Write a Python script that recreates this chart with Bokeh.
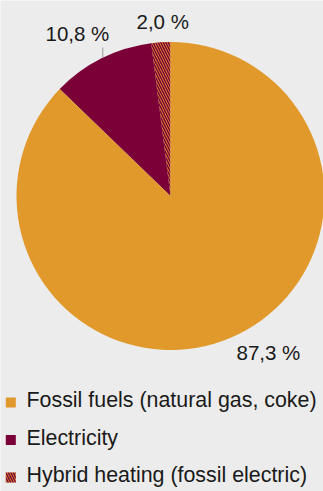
import math
from bokeh.plotting import figure
from bokeh.models import Range1d
from bokeh.core.properties import value
from bokeh.embed import file_html
from bokeh.resources import INLINE

# Heat sources share (percent)
categories = ["Fossil fuels (natural gas, coke)", "Electricity", "Hybrid heating (fossil electric)"]
shares = [87.3, 10.8, 2.0]
share_labels = ["87,3 %", "10,8 %", "2,0 %"]

W, H = 323, 491
ORANGE = "#e2992b"
MAROON = "#7b0037"
BG = "#ececec"
TXT = "#1a1a1a"
FONT = "Liberation Sans"
TEXT_SHIFT = 9  # baseline correction for svg text


def Y(px):
    # page pixel row -> data y (y axis points up)
    return H - px


p = figure(width=W, height=H, output_backend="svg", toolbar_location=None,
           x_range=Range1d(0, W), y_range=Range1d(0, H), min_border=0)
p.axis.visible = False
p.grid.visible = False
p.outline_line_color = None
p.background_fill_color = BG
p.border_fill_color = BG

cx, cy, r = 170, Y(195.5), 154

HATCH = dict(fill_color=ORANGE, hatch_pattern="\\", hatch_color=MAROON,
             hatch_scale=5.0, hatch_weight=1.5)

# slices run anticlockwise from 12 o'clock: hybrid, electricity, fossil
total = sum(shares)
order = [2, 1, 0]
styles = {0: dict(fill_color=ORANGE), 1: dict(fill_color=MAROON), 2: HATCH}
start = math.pi / 2
for i in order:
    end = start + 2 * math.pi * shares[i] / total
    p.wedge(x=[cx], y=[cy], radius=r, start_angle=[start], end_angle=[end],
            line_color=None, **styles[i])
    start = end

# value labels
label_pos = {0: (236, 360.7), 1: (45, 41.7), 2: (136, 30)}
for i, (lx, ly) in label_pos.items():
    p.text(x=[lx], y=[Y(ly - TEXT_SHIFT)], text=[share_labels[i]], text_font=value(FONT),
           text_font_size="20.5px", text_color=TXT, text_align="left",
           text_baseline="alphabetic")

# leader line for the electricity label
p.line(x=[102.3, 102.3], y=[Y(47), Y(57)], line_color="#9a9a9a", line_width=1)

# legend
rows = [402, 439.5, 477]
for i, row in enumerate(rows):
    p.rect(x=[10.3], y=[Y(row)], width=10, height=10, line_color=None, **styles[i])
    p.text(x=[26], y=[Y(row + 6.5 - TEXT_SHIFT)], text=[categories[i]], text_font=value(FONT),
           text_font_size="21.4px", text_color=TXT, text_align="left",
           text_baseline="alphabetic")

open("out.html", "w").write(file_html(p, INLINE))
